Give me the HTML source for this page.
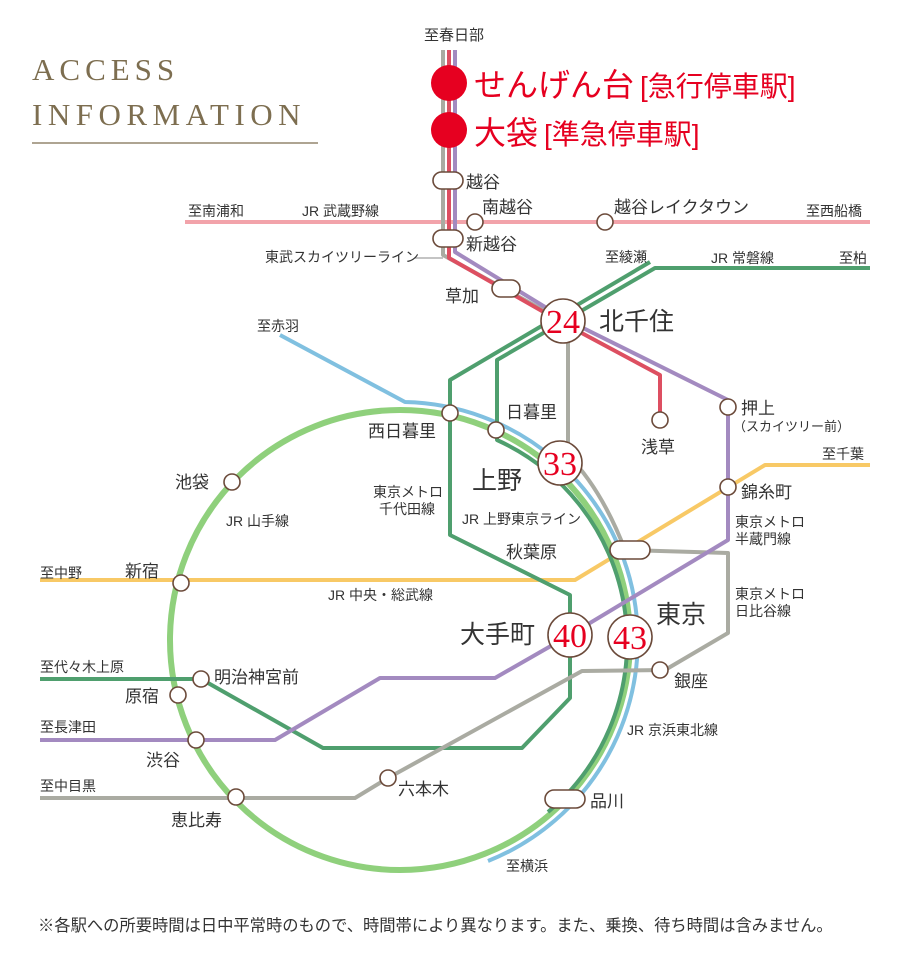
<!DOCTYPE html><html><head><meta charset="utf-8"><style>
body{margin:0;background:#fff}
svg text{font-family:"Liberation Sans","Noto Sans CJK JP",sans-serif;fill:#333}
svg text.serif{font-family:"Liberation Serif","Noto Serif CJK SC",serif}
</style></head><body>
<svg width="900" height="961" viewBox="0 0 900 961" xmlns="http://www.w3.org/2000/svg">
<text class="serif" x="32" y="80" style="fill:#7d6e50;font-size:31px;letter-spacing:5px">ACCESS</text>
<text class="serif" x="32" y="125" style="fill:#7d6e50;font-size:31px;letter-spacing:5.5px">INFORMATION</text>
<line x1="32" y1="143" x2="318" y2="143" stroke="#7d6e50" stroke-width="1.2"/>
<g fill="none" stroke-linejoin="round">
<line x1="185" y1="222" x2="870" y2="222" stroke="#f2a3aa" stroke-width="4"/>
<path d="M40,580 L575,580 L765,465 L870,465" stroke="#f8c966" stroke-width="4"/>
<path d="M280,335 L405,402 A238,238 0 0 1 488,861" stroke="#80c0e0" stroke-width="4"/>
<circle cx="400" cy="640" r="230" stroke="#8fd07c" stroke-width="6"/>
<path d="M870,268 L655,268 L497,360 L497,440 A222,222 0 0 1 548,812" stroke="#4f9f6e" stroke-width="4"/>
<path d="M650,262 L450,380 L450,535 L570,595 L570,698 L522,748 L323,748 L201,679 L40,679" stroke="#4f9f6e" stroke-width="4"/>
<path d="M443,50 L443,255 L563,321 L568,335 L568,455 Q602,490 625,550 L728,553 L728,633 L665,670 L582,671 L388,778 L355,798 L40,798" stroke="#aaaba2" stroke-width="4"/>
<path d="M449,50 L449,258 L563,323 L660,375 L660,420" stroke="#dd4f61" stroke-width="4"/>
<path d="M455,50 L455,252 L563,318 L728,400 L728,540 L570,635 L495,678 L380,678 L275,740 L40,740" stroke="#a38ac0" stroke-width="4"/>
<line x1="415" y1="258" x2="443" y2="258" stroke="#888" stroke-width="1"/>
</g>
<g fill="#fff" stroke="#6b4a3a" stroke-width="1.6">
<rect x="433" y="172" width="30" height="17" rx="8.5"/>
<rect x="433" y="230" width="30" height="17" rx="8.5"/>
<rect x="492" y="280" width="28" height="17" rx="8.5"/>
<rect x="610" y="541" width="40" height="18" rx="9"/>
<rect x="545" y="790" width="40" height="18" rx="9"/>
<circle cx="475" cy="222" r="8"/><circle cx="605" cy="222" r="8"/>
<circle cx="450" cy="413" r="8"/><circle cx="496" cy="430" r="8"/>
<circle cx="660" cy="420" r="8"/><circle cx="728" cy="407" r="8"/><circle cx="728" cy="487" r="8"/>
<circle cx="232" cy="482" r="8"/><circle cx="181" cy="583" r="8"/>
<circle cx="201" cy="679" r="8"/><circle cx="178" cy="695" r="8"/>
<circle cx="196" cy="740" r="8"/><circle cx="236" cy="797" r="8"/>
<circle cx="388" cy="778" r="8"/><circle cx="660" cy="670" r="8"/>
<circle cx="563" cy="321" r="22"/><circle cx="560" cy="463" r="22"/>
<circle cx="570" cy="635" r="22"/><circle cx="630" cy="637" r="22"/>
</g>
<circle cx="449" cy="83" r="18" fill="#e60020"/><circle cx="449" cy="130" r="18" fill="#e60020"/>
<g font-size="34" text-anchor="middle">
<text class="serif" x="563" y="333" style="fill:#e60020">24</text>
<text class="serif" x="560" y="475" style="fill:#e60020">33</text>
<text class="serif" x="570" y="647" style="fill:#e60020">40</text>
<text class="serif" x="630" y="649" style="fill:#e60020">43</text>
</g>
<text x="474" y="96" font-size="32" style="fill:#e60020">せんげん台<tspan font-size="28" dx="6">[急行停車駅]</tspan></text>
<text x="474" y="144" font-size="32" style="fill:#e60020">大袋<tspan font-size="28" dx="6">[準急停車駅]</tspan></text>
<g font-size="17">
<text x="424" y="40" font-size="15">至春日部</text>
<text x="466" y="188">越谷</text>
<text x="482" y="213">南越谷</text>
<text x="614" y="213">越谷レイクタウン</text>
<text x="466" y="250">新越谷</text>
<text x="445" y="302">草加</text>
<text x="506" y="418">日暮里</text>
<text x="368" y="437">西日暮里</text>
<text x="641" y="453">浅草</text>
<text x="741" y="414">押上</text>
<text x="741" y="498">錦糸町</text>
<text x="175" y="488">池袋</text>
<text x="125" y="577">新宿</text>
<text x="214" y="683">明治神宮前</text>
<text x="125" y="702">原宿</text>
<text x="146" y="766">渋谷</text>
<text x="171" y="826">恵比寿</text>
<text x="398" y="795">六本木</text>
<text x="674" y="687">銀座</text>
<text x="590" y="807">品川</text>
<text x="506" y="558">秋葉原</text>
</g>
<g font-size="25">
<text x="599" y="330">北千住</text>
<text x="472" y="489">上野</text>
<text x="460" y="643">大手町</text>
<text x="656" y="623">東京</text>
</g>
<g font-size="14">
<text x="188" y="216">至南浦和</text>
<text x="302" y="216">JR 武蔵野線</text>
<text x="806" y="216">至西船橋</text>
<text x="265" y="262">東武スカイツリーライン</text>
<text x="605" y="262">至綾瀬</text>
<text x="711" y="263">JR 常磐線</text>
<text x="839" y="263">至柏</text>
<text x="257" y="331">至赤羽</text>
<text x="733" y="431" font-size="13">（スカイツリー前）</text>
<text x="822" y="459">至千葉</text>
<text x="735" y="527">東京メトロ</text>
<text x="735" y="544">半蔵門線</text>
<text x="735" y="599">東京メトロ</text>
<text x="735" y="616">日比谷線</text>
<text x="373" y="497">東京メトロ</text>
<text x="379" y="514">千代田線</text>
<text x="462" y="524">JR 上野東京ライン</text>
<text x="226" y="526">JR 山手線</text>
<text x="40" y="578">至中野</text>
<text x="328" y="600">JR 中央・総武線</text>
<text x="40" y="672">至代々木上原</text>
<text x="40" y="732">至長津田</text>
<text x="40" y="791">至中目黒</text>
<text x="627" y="735">JR 京浜東北線</text>
<text x="506" y="871">至横浜</text>
</g>
<text x="38" y="931" font-size="16.3">※各駅への所要時間は日中平常時のもので、時間帯により異なります。また、乗換、待ち時間は含みません。</text>
</svg>
</body></html>
